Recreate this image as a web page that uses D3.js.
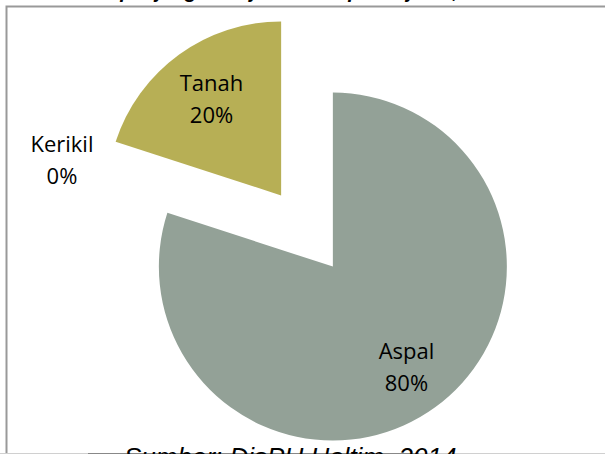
<!DOCTYPE html>
<html>
<head>
<meta charset="utf-8">
<script src="https://cdn.jsdelivr.net/npm/d3@7"></script>
<style>
  body { margin: 0; background: #fff; }
  svg { display: block; }
</style>
</head>
<body>
<svg></svg>
<script>
// data
var categories = ["Aspal", "Kerikil", "Tanah"];
var values = [80, 0, 20];
var pctLabels = ["80%", "0%", "20%"];
var colors = ["#93A197", "#A8A8A8", "#B7AF55"];

var width = 605, height = 454;
var cx = 307, cy = 231, radius = 174, explode = 44;

var svg = d3.select('svg')
    .attr('width', width)
    .attr('height', height);

// caption above the chart, mostly outside the crop
svg.append('text')
    .attr('x', 8)
    .attr('y', -2)
    .style('font-family', '"Liberation Sans", Arial, sans-serif')
    .style('font-style', 'italic')
    .style('font-weight', 'bold')
    .style('font-size', '20px')
    .attr('fill', '#000')
    .text('Persentase panjang ruas jalan kabupaten jenis, 2013');

// chart frame
svg.append('rect')
    .attr('x', 6.5)
    .attr('y', 6.5)
    .attr('width', 620)
    .attr('height', 460)
    .attr('fill', 'none')
    .attr('stroke', '#999')
    .attr('stroke-width', 2);

var pie = d3.pie()
    .sort(null)
    .value(function(d) { return d; });

var arcs = pie(values);

var arc = d3.arc()
    .innerRadius(0)
    .outerRadius(radius);

var mid = function(d) { return (d.startAngle + d.endAngle) / 2; };
var offset = function(d, r) {
  var a = mid(d);
  return [cx + (explode + r) * Math.sin(a),
          cy - (explode + r) * Math.cos(a)];
};

var slices = svg.selectAll('.slice')
    .data(arcs)
    .enter().append('g')
    .attr('class', 'slice')
    .attr('transform', function(d) {
      var p = offset(d, 0);
      return 'translate(' + p[0] + ',' + p[1] + ')';
    });

slices.append('path')
    .attr('d', arc)
    .attr('fill', function(d, i) { return colors[i]; });

// labels: inside for real slices, outside for the empty one
var labelR = function(d) { return d.value === 0 ? radius * 1.24 : radius * 0.7; };

var labels = svg.selectAll('.lbl')
    .data(arcs)
    .enter().append('text')
    .attr('class', 'lbl')
    .attr('text-anchor', 'middle')
    .style('font-family', '"Open Sans", "Noto Sans", sans-serif')
    .style('font-size', '22px')
    .attr('fill', '#000');

labels.each(function(d, i) {
  var p = offset(d, labelR(d));
  var dy = d.value === 0 ? 9 : 2;
  var t = d3.select(this);
  t.append('tspan').attr('x', p[0] + 2).attr('y', p[1] - 8 + dy).text(categories[i]);
  t.append('tspan').attr('x', p[0] + 2).attr('y', p[1] + 24 + dy).text(pctLabels[i]);
});

// source line at bottom (cut off)
svg.append('line')
    .attr('x1', 0).attr('x2', width)
    .attr('y1', 453.5).attr('y2', 453.5)
    .attr('stroke', '#d0d0d0')
    .attr('stroke-width', 1);

svg.append('line')
    .attr('x1', 88).attr('x2', 419)
    .attr('y1', 453.5).attr('y2', 453.5)
    .attr('stroke', '#888')
    .attr('stroke-width', 1);

svg.append('text')
    .attr('x', 124)
    .attr('y', 466)
    .style('font-family', '"Liberation Sans", Arial, sans-serif')
    .style('font-style', 'italic')
    .style('font-size', '26px')
    .attr('fill', '#000')
    .text('Sumber: DisPU Haltim, 2014');
</script>
</body>
</html>
